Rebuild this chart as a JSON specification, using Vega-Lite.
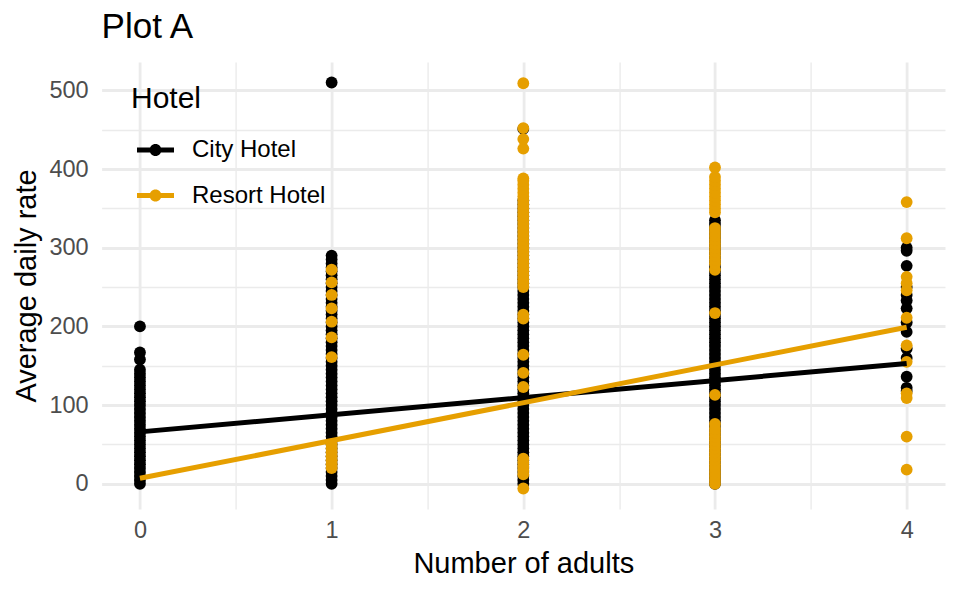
{
"$schema":"https://vega.github.io/schema/vega-lite/v6.json",
"width":843.4,"height":447,
"autosize":{"type":"none"},
"padding":{"left":101.6,"top":62,"right":15,"bottom":84},
"background":"white",
"title":{"text":"Plot A","anchor":"start","frame":"group","fontSize":35,"font":"Liberation Sans","fontWeight":"normal","color":"#000000","offset":-11,"baseline":"alphabetic"},
"config":{"view":{"stroke":null}},
"datasets":{
"points":[
{"hotel":"City Hotel","adults":0,"adr":0},{"hotel":"City Hotel","adults":0,"adr":5},{"hotel":"City Hotel","adults":0,"adr":10},{"hotel":"City Hotel","adults":0,"adr":15},{"hotel":"City Hotel","adults":0,"adr":20},{"hotel":"City Hotel","adults":0,"adr":25},{"hotel":"City Hotel","adults":0,"adr":30},{"hotel":"City Hotel","adults":0,"adr":35},{"hotel":"City Hotel","adults":0,"adr":40},{"hotel":"City Hotel","adults":0,"adr":45},{"hotel":"City Hotel","adults":0,"adr":50},{"hotel":"City Hotel","adults":0,"adr":55},{"hotel":"City Hotel","adults":0,"adr":60},{"hotel":"City Hotel","adults":0,"adr":65},{"hotel":"City Hotel","adults":0,"adr":70},{"hotel":"City Hotel","adults":0,"adr":75},{"hotel":"City Hotel","adults":0,"adr":80},{"hotel":"City Hotel","adults":0,"adr":85},{"hotel":"City Hotel","adults":0,"adr":90},{"hotel":"City Hotel","adults":0,"adr":95},{"hotel":"City Hotel","adults":0,"adr":100},{"hotel":"City Hotel","adults":0,"adr":105},{"hotel":"City Hotel","adults":0,"adr":110},{"hotel":"City Hotel","adults":0,"adr":115},{"hotel":"City Hotel","adults":0,"adr":120},{"hotel":"City Hotel","adults":0,"adr":125},{"hotel":"City Hotel","adults":0,"adr":130},{"hotel":"City Hotel","adults":0,"adr":135},{"hotel":"City Hotel","adults":0,"adr":140},{"hotel":"City Hotel","adults":0,"adr":145},{"hotel":"City Hotel","adults":0,"adr":158},{"hotel":"City Hotel","adults":0,"adr":167},{"hotel":"City Hotel","adults":0,"adr":200},
{"hotel":"City Hotel","adults":1,"adr":0},{"hotel":"City Hotel","adults":1,"adr":5},{"hotel":"City Hotel","adults":1,"adr":10},{"hotel":"City Hotel","adults":1,"adr":15},{"hotel":"City Hotel","adults":1,"adr":20},{"hotel":"City Hotel","adults":1,"adr":25},{"hotel":"City Hotel","adults":1,"adr":30},{"hotel":"City Hotel","adults":1,"adr":35},{"hotel":"City Hotel","adults":1,"adr":40},{"hotel":"City Hotel","adults":1,"adr":45},{"hotel":"City Hotel","adults":1,"adr":50},{"hotel":"City Hotel","adults":1,"adr":55},{"hotel":"City Hotel","adults":1,"adr":60},{"hotel":"City Hotel","adults":1,"adr":65},{"hotel":"City Hotel","adults":1,"adr":70},{"hotel":"City Hotel","adults":1,"adr":75},{"hotel":"City Hotel","adults":1,"adr":80},{"hotel":"City Hotel","adults":1,"adr":85},{"hotel":"City Hotel","adults":1,"adr":90},{"hotel":"City Hotel","adults":1,"adr":95},{"hotel":"City Hotel","adults":1,"adr":100},{"hotel":"City Hotel","adults":1,"adr":105},{"hotel":"City Hotel","adults":1,"adr":110},{"hotel":"City Hotel","adults":1,"adr":115},{"hotel":"City Hotel","adults":1,"adr":120},{"hotel":"City Hotel","adults":1,"adr":125},{"hotel":"City Hotel","adults":1,"adr":130},{"hotel":"City Hotel","adults":1,"adr":135},{"hotel":"City Hotel","adults":1,"adr":140},{"hotel":"City Hotel","adults":1,"adr":145},{"hotel":"City Hotel","adults":1,"adr":150},{"hotel":"City Hotel","adults":1,"adr":155},{"hotel":"City Hotel","adults":1,"adr":160},{"hotel":"City Hotel","adults":1,"adr":165},{"hotel":"City Hotel","adults":1,"adr":170},{"hotel":"City Hotel","adults":1,"adr":175},{"hotel":"City Hotel","adults":1,"adr":180},{"hotel":"City Hotel","adults":1,"adr":185},{"hotel":"City Hotel","adults":1,"adr":190},{"hotel":"City Hotel","adults":1,"adr":195},{"hotel":"City Hotel","adults":1,"adr":200},{"hotel":"City Hotel","adults":1,"adr":205},{"hotel":"City Hotel","adults":1,"adr":210},{"hotel":"City Hotel","adults":1,"adr":215},{"hotel":"City Hotel","adults":1,"adr":220},{"hotel":"City Hotel","adults":1,"adr":225},{"hotel":"City Hotel","adults":1,"adr":230},{"hotel":"City Hotel","adults":1,"adr":235},{"hotel":"City Hotel","adults":1,"adr":240},{"hotel":"City Hotel","adults":1,"adr":245},{"hotel":"City Hotel","adults":1,"adr":250},{"hotel":"City Hotel","adults":1,"adr":255},{"hotel":"City Hotel","adults":1,"adr":260},{"hotel":"City Hotel","adults":1,"adr":265},{"hotel":"City Hotel","adults":1,"adr":270},{"hotel":"City Hotel","adults":1,"adr":275},{"hotel":"City Hotel","adults":1,"adr":280},{"hotel":"City Hotel","adults":1,"adr":285},{"hotel":"City Hotel","adults":1,"adr":290},{"hotel":"City Hotel","adults":1,"adr":510},
{"hotel":"Resort Hotel","adults":1,"adr":20},{"hotel":"Resort Hotel","adults":1,"adr":25},{"hotel":"Resort Hotel","adults":1,"adr":30},{"hotel":"Resort Hotel","adults":1,"adr":35},{"hotel":"Resort Hotel","adults":1,"adr":40},{"hotel":"Resort Hotel","adults":1,"adr":45},{"hotel":"Resort Hotel","adults":1,"adr":50},{"hotel":"Resort Hotel","adults":1,"adr":161},{"hotel":"Resort Hotel","adults":1,"adr":186},{"hotel":"Resort Hotel","adults":1,"adr":206},{"hotel":"Resort Hotel","adults":1,"adr":223},{"hotel":"Resort Hotel","adults":1,"adr":240},{"hotel":"Resort Hotel","adults":1,"adr":256},{"hotel":"Resort Hotel","adults":1,"adr":272},
{"hotel":"City Hotel","adults":2,"adr":0},{"hotel":"City Hotel","adults":2,"adr":5},{"hotel":"City Hotel","adults":2,"adr":10},{"hotel":"City Hotel","adults":2,"adr":15},{"hotel":"City Hotel","adults":2,"adr":20},{"hotel":"City Hotel","adults":2,"adr":25},{"hotel":"City Hotel","adults":2,"adr":30},{"hotel":"City Hotel","adults":2,"adr":35},{"hotel":"City Hotel","adults":2,"adr":40},{"hotel":"City Hotel","adults":2,"adr":45},{"hotel":"City Hotel","adults":2,"adr":50},{"hotel":"City Hotel","adults":2,"adr":55},{"hotel":"City Hotel","adults":2,"adr":60},{"hotel":"City Hotel","adults":2,"adr":65},{"hotel":"City Hotel","adults":2,"adr":70},{"hotel":"City Hotel","adults":2,"adr":75},{"hotel":"City Hotel","adults":2,"adr":80},{"hotel":"City Hotel","adults":2,"adr":85},{"hotel":"City Hotel","adults":2,"adr":90},{"hotel":"City Hotel","adults":2,"adr":95},{"hotel":"City Hotel","adults":2,"adr":100},{"hotel":"City Hotel","adults":2,"adr":105},{"hotel":"City Hotel","adults":2,"adr":110},{"hotel":"City Hotel","adults":2,"adr":115},{"hotel":"City Hotel","adults":2,"adr":120},{"hotel":"City Hotel","adults":2,"adr":125},{"hotel":"City Hotel","adults":2,"adr":130},{"hotel":"City Hotel","adults":2,"adr":135},{"hotel":"City Hotel","adults":2,"adr":140},{"hotel":"City Hotel","adults":2,"adr":145},{"hotel":"City Hotel","adults":2,"adr":150},{"hotel":"City Hotel","adults":2,"adr":155},{"hotel":"City Hotel","adults":2,"adr":160},{"hotel":"City Hotel","adults":2,"adr":165},{"hotel":"City Hotel","adults":2,"adr":170},{"hotel":"City Hotel","adults":2,"adr":175},{"hotel":"City Hotel","adults":2,"adr":180},{"hotel":"City Hotel","adults":2,"adr":185},{"hotel":"City Hotel","adults":2,"adr":190},{"hotel":"City Hotel","adults":2,"adr":195},{"hotel":"City Hotel","adults":2,"adr":200},{"hotel":"City Hotel","adults":2,"adr":205},{"hotel":"City Hotel","adults":2,"adr":210},{"hotel":"City Hotel","adults":2,"adr":215},{"hotel":"City Hotel","adults":2,"adr":220},{"hotel":"City Hotel","adults":2,"adr":225},{"hotel":"City Hotel","adults":2,"adr":230},{"hotel":"City Hotel","adults":2,"adr":235},{"hotel":"City Hotel","adults":2,"adr":240},{"hotel":"City Hotel","adults":2,"adr":245},{"hotel":"City Hotel","adults":2,"adr":250},{"hotel":"City Hotel","adults":2,"adr":255},{"hotel":"City Hotel","adults":2,"adr":260},{"hotel":"City Hotel","adults":2,"adr":265},{"hotel":"City Hotel","adults":2,"adr":270},{"hotel":"City Hotel","adults":2,"adr":275},{"hotel":"City Hotel","adults":2,"adr":280},{"hotel":"City Hotel","adults":2,"adr":285},{"hotel":"City Hotel","adults":2,"adr":290},{"hotel":"City Hotel","adults":2,"adr":295},{"hotel":"City Hotel","adults":2,"adr":300},{"hotel":"City Hotel","adults":2,"adr":305},{"hotel":"City Hotel","adults":2,"adr":310},{"hotel":"City Hotel","adults":2,"adr":315},{"hotel":"City Hotel","adults":2,"adr":320},{"hotel":"City Hotel","adults":2,"adr":325},{"hotel":"City Hotel","adults":2,"adr":330},{"hotel":"City Hotel","adults":2,"adr":335},{"hotel":"City Hotel","adults":2,"adr":340},{"hotel":"City Hotel","adults":2,"adr":345},{"hotel":"City Hotel","adults":2,"adr":350},{"hotel":"City Hotel","adults":2,"adr":355},{"hotel":"City Hotel","adults":2,"adr":360},{"hotel":"City Hotel","adults":2,"adr":451},
{"hotel":"Resort Hotel","adults":2,"adr":-6},{"hotel":"Resort Hotel","adults":2,"adr":12},{"hotel":"Resort Hotel","adults":2,"adr":17},{"hotel":"Resort Hotel","adults":2,"adr":22},{"hotel":"Resort Hotel","adults":2,"adr":27},{"hotel":"Resort Hotel","adults":2,"adr":32},{"hotel":"Resort Hotel","adults":2,"adr":123},{"hotel":"Resort Hotel","adults":2,"adr":141},{"hotel":"Resort Hotel","adults":2,"adr":164},{"hotel":"Resort Hotel","adults":2,"adr":210},{"hotel":"Resort Hotel","adults":2,"adr":215},{"hotel":"Resort Hotel","adults":2,"adr":250},{"hotel":"Resort Hotel","adults":2,"adr":255},{"hotel":"Resort Hotel","adults":2,"adr":260},{"hotel":"Resort Hotel","adults":2,"adr":265},{"hotel":"Resort Hotel","adults":2,"adr":270},{"hotel":"Resort Hotel","adults":2,"adr":275},{"hotel":"Resort Hotel","adults":2,"adr":280},{"hotel":"Resort Hotel","adults":2,"adr":285},{"hotel":"Resort Hotel","adults":2,"adr":290},{"hotel":"Resort Hotel","adults":2,"adr":295},{"hotel":"Resort Hotel","adults":2,"adr":300},{"hotel":"Resort Hotel","adults":2,"adr":305},{"hotel":"Resort Hotel","adults":2,"adr":310},{"hotel":"Resort Hotel","adults":2,"adr":315},{"hotel":"Resort Hotel","adults":2,"adr":320},{"hotel":"Resort Hotel","adults":2,"adr":325},{"hotel":"Resort Hotel","adults":2,"adr":330},{"hotel":"Resort Hotel","adults":2,"adr":335},{"hotel":"Resort Hotel","adults":2,"adr":340},{"hotel":"Resort Hotel","adults":2,"adr":345},{"hotel":"Resort Hotel","adults":2,"adr":350},{"hotel":"Resort Hotel","adults":2,"adr":355},{"hotel":"Resort Hotel","adults":2,"adr":360},{"hotel":"Resort Hotel","adults":2,"adr":365},{"hotel":"Resort Hotel","adults":2,"adr":370},{"hotel":"Resort Hotel","adults":2,"adr":375},{"hotel":"Resort Hotel","adults":2,"adr":380},{"hotel":"Resort Hotel","adults":2,"adr":385},{"hotel":"Resort Hotel","adults":2,"adr":388},{"hotel":"Resort Hotel","adults":2,"adr":426},{"hotel":"Resort Hotel","adults":2,"adr":438},{"hotel":"Resort Hotel","adults":2,"adr":452},{"hotel":"Resort Hotel","adults":2,"adr":509},
{"hotel":"City Hotel","adults":3,"adr":0},{"hotel":"City Hotel","adults":3,"adr":5},{"hotel":"City Hotel","adults":3,"adr":10},{"hotel":"City Hotel","adults":3,"adr":15},{"hotel":"City Hotel","adults":3,"adr":20},{"hotel":"City Hotel","adults":3,"adr":25},{"hotel":"City Hotel","adults":3,"adr":30},{"hotel":"City Hotel","adults":3,"adr":35},{"hotel":"City Hotel","adults":3,"adr":40},{"hotel":"City Hotel","adults":3,"adr":45},{"hotel":"City Hotel","adults":3,"adr":50},{"hotel":"City Hotel","adults":3,"adr":55},{"hotel":"City Hotel","adults":3,"adr":60},{"hotel":"City Hotel","adults":3,"adr":65},{"hotel":"City Hotel","adults":3,"adr":70},{"hotel":"City Hotel","adults":3,"adr":75},{"hotel":"City Hotel","adults":3,"adr":80},{"hotel":"City Hotel","adults":3,"adr":85},{"hotel":"City Hotel","adults":3,"adr":90},{"hotel":"City Hotel","adults":3,"adr":95},{"hotel":"City Hotel","adults":3,"adr":100},{"hotel":"City Hotel","adults":3,"adr":105},{"hotel":"City Hotel","adults":3,"adr":110},{"hotel":"City Hotel","adults":3,"adr":115},{"hotel":"City Hotel","adults":3,"adr":120},{"hotel":"City Hotel","adults":3,"adr":125},{"hotel":"City Hotel","adults":3,"adr":130},{"hotel":"City Hotel","adults":3,"adr":135},{"hotel":"City Hotel","adults":3,"adr":140},{"hotel":"City Hotel","adults":3,"adr":145},{"hotel":"City Hotel","adults":3,"adr":150},{"hotel":"City Hotel","adults":3,"adr":155},{"hotel":"City Hotel","adults":3,"adr":160},{"hotel":"City Hotel","adults":3,"adr":165},{"hotel":"City Hotel","adults":3,"adr":170},{"hotel":"City Hotel","adults":3,"adr":175},{"hotel":"City Hotel","adults":3,"adr":180},{"hotel":"City Hotel","adults":3,"adr":185},{"hotel":"City Hotel","adults":3,"adr":190},{"hotel":"City Hotel","adults":3,"adr":195},{"hotel":"City Hotel","adults":3,"adr":200},{"hotel":"City Hotel","adults":3,"adr":205},{"hotel":"City Hotel","adults":3,"adr":210},{"hotel":"City Hotel","adults":3,"adr":215},{"hotel":"City Hotel","adults":3,"adr":220},{"hotel":"City Hotel","adults":3,"adr":225},{"hotel":"City Hotel","adults":3,"adr":230},{"hotel":"City Hotel","adults":3,"adr":235},{"hotel":"City Hotel","adults":3,"adr":240},{"hotel":"City Hotel","adults":3,"adr":245},{"hotel":"City Hotel","adults":3,"adr":250},{"hotel":"City Hotel","adults":3,"adr":255},{"hotel":"City Hotel","adults":3,"adr":260},{"hotel":"City Hotel","adults":3,"adr":265},{"hotel":"City Hotel","adults":3,"adr":270},{"hotel":"City Hotel","adults":3,"adr":275},{"hotel":"City Hotel","adults":3,"adr":280},{"hotel":"City Hotel","adults":3,"adr":285},{"hotel":"City Hotel","adults":3,"adr":290},{"hotel":"City Hotel","adults":3,"adr":295},{"hotel":"City Hotel","adults":3,"adr":300},{"hotel":"City Hotel","adults":3,"adr":305},{"hotel":"City Hotel","adults":3,"adr":310},{"hotel":"City Hotel","adults":3,"adr":315},{"hotel":"City Hotel","adults":3,"adr":320},{"hotel":"City Hotel","adults":3,"adr":325},{"hotel":"City Hotel","adults":3,"adr":330},{"hotel":"City Hotel","adults":3,"adr":335},
{"hotel":"Resort Hotel","adults":3,"adr":0},{"hotel":"Resort Hotel","adults":3,"adr":5},{"hotel":"Resort Hotel","adults":3,"adr":10},{"hotel":"Resort Hotel","adults":3,"adr":15},{"hotel":"Resort Hotel","adults":3,"adr":20},{"hotel":"Resort Hotel","adults":3,"adr":25},{"hotel":"Resort Hotel","adults":3,"adr":30},{"hotel":"Resort Hotel","adults":3,"adr":35},{"hotel":"Resort Hotel","adults":3,"adr":40},{"hotel":"Resort Hotel","adults":3,"adr":45},{"hotel":"Resort Hotel","adults":3,"adr":50},{"hotel":"Resort Hotel","adults":3,"adr":55},{"hotel":"Resort Hotel","adults":3,"adr":60},{"hotel":"Resort Hotel","adults":3,"adr":65},{"hotel":"Resort Hotel","adults":3,"adr":70},{"hotel":"Resort Hotel","adults":3,"adr":76},{"hotel":"Resort Hotel","adults":3,"adr":113},{"hotel":"Resort Hotel","adults":3,"adr":217},{"hotel":"Resort Hotel","adults":3,"adr":272},{"hotel":"Resort Hotel","adults":3,"adr":280},{"hotel":"Resort Hotel","adults":3,"adr":285},{"hotel":"Resort Hotel","adults":3,"adr":290},{"hotel":"Resort Hotel","adults":3,"adr":295},{"hotel":"Resort Hotel","adults":3,"adr":300},{"hotel":"Resort Hotel","adults":3,"adr":305},{"hotel":"Resort Hotel","adults":3,"adr":310},{"hotel":"Resort Hotel","adults":3,"adr":315},{"hotel":"Resort Hotel","adults":3,"adr":320},{"hotel":"Resort Hotel","adults":3,"adr":325},{"hotel":"Resort Hotel","adults":3,"adr":345},{"hotel":"Resort Hotel","adults":3,"adr":350},{"hotel":"Resort Hotel","adults":3,"adr":355},{"hotel":"Resort Hotel","adults":3,"adr":360},{"hotel":"Resort Hotel","adults":3,"adr":365},{"hotel":"Resort Hotel","adults":3,"adr":370},{"hotel":"Resort Hotel","adults":3,"adr":375},{"hotel":"Resort Hotel","adults":3,"adr":380},{"hotel":"Resort Hotel","adults":3,"adr":385},{"hotel":"Resort Hotel","adults":3,"adr":390},{"hotel":"Resort Hotel","adults":3,"adr":402},
{"hotel":"City Hotel","adults":4,"adr":300},{"hotel":"City Hotel","adults":4,"adr":296},{"hotel":"City Hotel","adults":4,"adr":277},{"hotel":"City Hotel","adults":4,"adr":250},{"hotel":"City Hotel","adults":4,"adr":240},{"hotel":"City Hotel","adults":4,"adr":233},{"hotel":"City Hotel","adults":4,"adr":223},{"hotel":"City Hotel","adults":4,"adr":205},{"hotel":"City Hotel","adults":4,"adr":193},{"hotel":"City Hotel","adults":4,"adr":172},{"hotel":"City Hotel","adults":4,"adr":160},{"hotel":"City Hotel","adults":4,"adr":136},{"hotel":"City Hotel","adults":4,"adr":122},{"hotel":"City Hotel","adults":4,"adr":118},
{"hotel":"Resort Hotel","adults":4,"adr":358},{"hotel":"Resort Hotel","adults":4,"adr":312},{"hotel":"Resort Hotel","adults":4,"adr":263},{"hotel":"Resort Hotel","adults":4,"adr":255},{"hotel":"Resort Hotel","adults":4,"adr":246},{"hotel":"Resort Hotel","adults":4,"adr":211},{"hotel":"Resort Hotel","adults":4,"adr":176},{"hotel":"Resort Hotel","adults":4,"adr":155},{"hotel":"Resort Hotel","adults":4,"adr":115},{"hotel":"Resort Hotel","adults":4,"adr":109},{"hotel":"Resort Hotel","adults":4,"adr":60},{"hotel":"Resort Hotel","adults":4,"adr":18}
],
"fits":[
{"hotel":"City Hotel","adults":0,"adr":66},{"hotel":"City Hotel","adults":4,"adr":153},
{"hotel":"Resort Hotel","adults":0,"adr":7},{"hotel":"Resort Hotel","adults":4,"adr":199}
]
},
"encoding":{
"x":{"field":"adults","type":"quantitative","scale":{"domain":[-0.2,4.2],"nice":false,"zero":false},
 "axis":{"title":"Number of adults","values":[0,0.5,1,1.5,2,2.5,3,3.5,4],"labelExpr":"datum.value % 1 === 0 ? format(datum.value, 'd') : ''","labelOverlap":false,"labelFlush":false,
 "grid":true,"gridColor":"#EBEBEB","gridWidth":{"condition":{"test":"datum.value % 1 !== 0","value":1.4},"value":2.8},
 "ticks":false,"domain":false,"labelFont":"Liberation Sans","labelFontSize":23.5,"labelColor":"#4D4D4D","labelPadding":9,
 "titleFont":"Liberation Sans","titleFontSize":29,"titleFontWeight":"normal","titleColor":"#000000","titlePadding":8}},
"y":{"field":"adr","type":"quantitative","scale":{"domain":[-32,536],"nice":false,"zero":false},
 "axis":{"title":"Average daily rate","values":[0,50,100,150,200,250,300,350,400,450,500],"labelExpr":"datum.value % 100 === 0 ? format(datum.value, 'd') : ''","labelOverlap":false,"labelFlush":false,
 "grid":true,"gridColor":"#EBEBEB","gridWidth":{"condition":{"test":"datum.value % 100 !== 0","value":1.4},"value":2.8},
 "ticks":false,"domain":false,"labelFont":"Liberation Sans","labelFontSize":23.5,"labelColor":"#4D4D4D","labelPadding":13.5,
 "titleFont":"Liberation Sans","titleFontSize":29,"titleFontWeight":"normal","titleColor":"#000000","titlePadding":7}},
"color":{"field":"hotel","type":"nominal","scale":{"domain":["City Hotel","Resort Hotel"],"range":["#000000","#E69F00"]},
 "legend":{"title":"Hotel","orient":"none","legendX":29.4,"legendY":22.3,"padding":0,
 "titleFont":"Liberation Sans","titleFontSize":30,"titleFontWeight":"normal","titleColor":"#000000","titlePadding":13.8,
 "labelFont":"Liberation Sans","labelFontSize":24,"labelColor":"#000000","labelOffset":17,"rowPadding":11.5,
 "symbolType":"M-0.727,-0.114L0.955,-0.114L0.955,0.114L-0.727,0.114Z M-0.159,0A0.273,0.273 0 1 1 0.387,0A0.273,0.273 0 1 1 -0.159,0Z",
 "symbolSize":1936,"symbolStrokeWidth":0,
 "encode":{"symbols":{"update":{"fill":{"scale":"color","field":"value"},"stroke":{"value":"transparent"},"fillOpacity":{"value":1},"opacity":{"value":1}}}}}}
},
"layer":[
{"data":{"name":"points"},"mark":{"type":"point","filled":true,"size":140,"opacity":1,"strokeWidth":0}},
{"data":{"name":"fits"},"mark":{"type":"line","strokeWidth":5}}
]
}
